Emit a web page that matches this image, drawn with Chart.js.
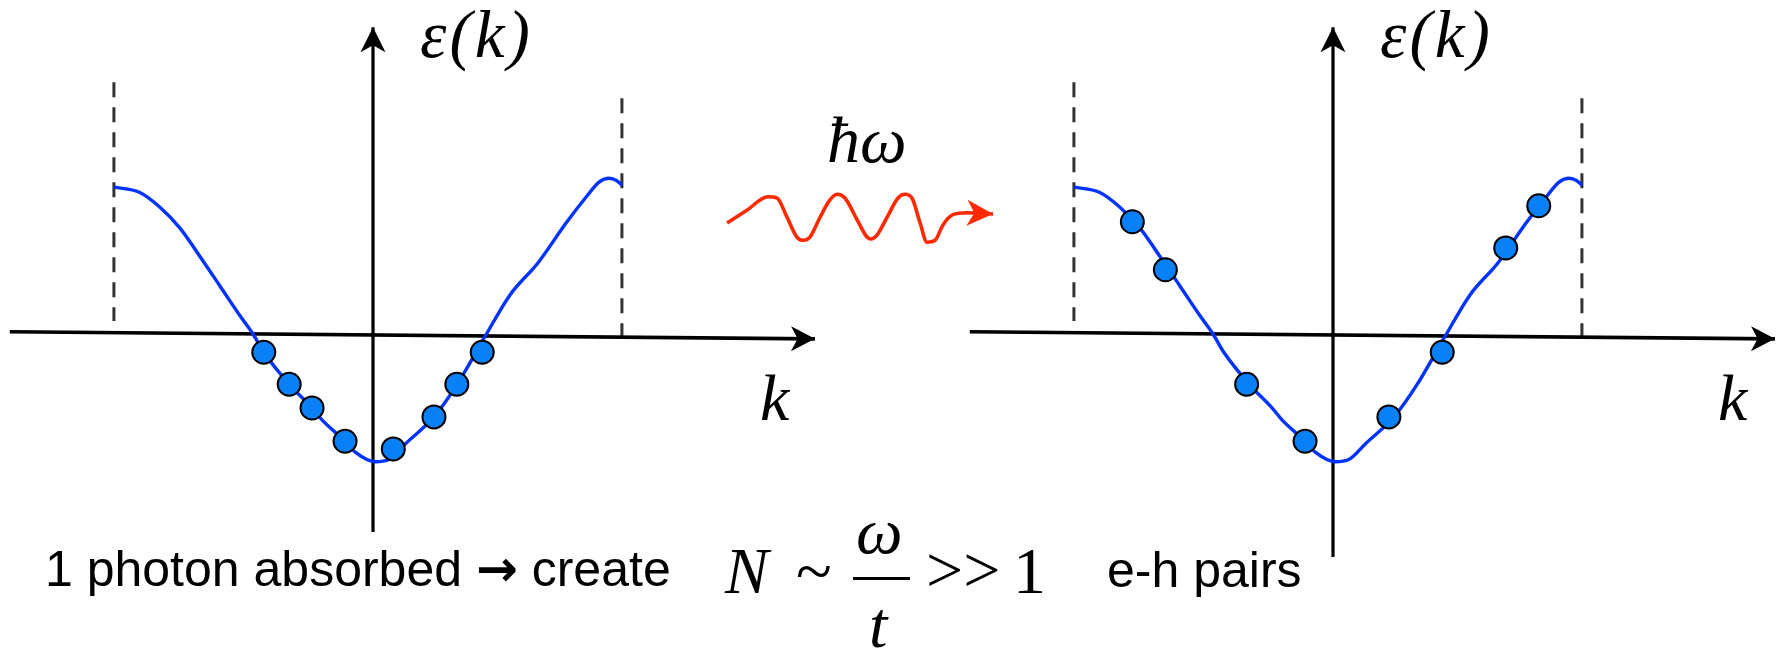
<!DOCTYPE html>
<html>
<head>
<meta charset="utf-8">
<script src="https://cdn.jsdelivr.net/npm/chart.js@4.4.0/dist/chart.umd.min.js"></script>
<style>
  html, body { margin: 0; padding: 0; background: #fff; }
  #wrap { position: relative; width: 1781px; height: 649px; overflow: hidden; }
  #chart { position: absolute; left: 0; top: 0; }
  .t { position: absolute; white-space: nowrap; line-height: 1; color: #000; }
  .m { font-family: "Liberation Serif", "Times New Roman", serif; font-style: italic; }
  .r { font-family: "Liberation Serif", "Times New Roman", serif; }
  .s { font-family: "Liberation Sans", Arial, sans-serif; }
  .arr { font-family: "DejaVu Sans", sans-serif; font-weight: bold; }
  #bar { position: absolute; left: 853px; top: 577px; width: 57px; height: 3px; background: #000; }
</style>
</head>
<body>
<div id="wrap">
  <canvas id="chart" width="1781" height="649"></canvas>

  <div class="t m" style="left:420px; top:1px; font-size:67px; letter-spacing:3px;">ε(k)</div>
  <div class="t m" style="left:1380px; top:1px; font-size:67px; letter-spacing:3px;">ε(k)</div>
  <div class="t m" style="left:760px; top:365px; font-size:66px;">k</div>
  <div class="t m" style="left:1718px; top:365px; font-size:66px;">k</div>
  <div class="t m" style="left:827px; top:107px; font-size:66px;">ħω</div>

  <div class="t s" style="left:45px; top:544px; font-size:50px;">1 photon absorbed <span class="arr">→</span> create</div>
  <div class="t m" style="left:725px; top:539px; font-size:65px;">N</div>
  <div class="t r" style="left:796px; top:538px; font-size:66px;">~</div>
  <div class="t m" style="left:856px; top:498px; font-size:66px;">ω</div>
  <div id="bar"></div>
  <div class="t m" style="left:869px; top:592px; font-size:66px;">t</div>
  <div class="t r" style="left:926px; top:537px; font-size:66px;">&gt;&gt;</div>
  <div class="t r" style="left:1013px; top:538px; font-size:66px;">1</div>
  <div class="t s" style="left:1107px; top:545px; font-size:50px;">e-h pairs</div>
</div>

<script>
// band ε(k), k in units of π, ε in units of t (same curve in both panels)
const bandK = [-1.02, -0.92, -0.84, -0.76, -0.68, -0.60, -0.52, -0.47, -0.43, -0.33, -0.24, -0.20, -0.11, -0.07,
               0.01, 0.06, 0.13, 0.24, 0.33, 0.44, 0.54, 0.65, 0.76, 0.84, 0.89, 0.93, 0.96, 0.98];
const bandE = [2.31, 2.23, 2.00, 1.67, 1.22, 0.75, 0.28, 0.00, -0.27, -0.77, -1.14, -1.33, -1.66, -1.83,
               -1.98, -1.95, -1.69, -1.28, -0.78, -0.03, 0.63, 1.13, 1.75, 2.16, 2.39, 2.45, 2.41, 2.34];

// electrons before (left) and after (right) absorption
const beforeK = [-0.43, -0.33, -0.24, -0.11, 0.08, 0.24, 0.33, 0.43];
const beforeE = [-0.27, -0.77, -1.14, -1.66, -1.78, -1.28, -0.77, -0.27];
const afterK  = [-0.79, -0.66, -0.34, -0.11, 0.22, 0.43, 0.68, 0.81];
const afterE  = [1.77, 1.02, -0.77, -1.66, -1.28, -0.27, 1.36, 2.02];

// zone boundaries (dashed)
const zoneK = [-1.02, 0.98];
const zoneTop = [3.95, 3.70];
const zoneBottom = [0.22, -0.03];

// axes
const kAxisK = [-1.43, 1.74];
const kAxisE = [0.05, -0.06];
const eAxisTop = 4.81;
const eAxisBottom = [-3.08, -3.47];

// photon wave (left panel units)
const waveK = [1.394, 1.472, 1.555, 1.591, 1.630, 1.669, 1.693, 1.720, 1.760, 1.799, 1.827, 1.858, 1.906, 1.945,
               1.961, 1.984, 2.024, 2.067, 2.094, 2.122, 2.154, 2.181, 2.213, 2.244, 2.283, 2.339, 2.441];
const waveE = [1.75, 1.95, 2.16, 2.14, 1.84, 1.53, 1.48, 1.53, 1.84, 2.11, 2.20, 2.14, 1.80, 1.53,
               1.50, 1.56, 1.84, 2.14, 2.20, 2.14, 1.75, 1.45, 1.48, 1.72, 1.88, 1.91, 1.89];

const W = 1781, H = 649;
const ORIGIN_L = 373, ORIGIN_R = 1333, ORIGIN_Y = 335, PX_K = 254, PX_E = 64;

const pts = (xs, ys) => xs.map((x, i) => ({ x, y: ys[i] }));

const BLUE = '#0033ff', DOT = '#0a80f6', RED = '#ff2a00';

function panel(axis, dotsK, dotsE, bottom) {
  return [
    { data: pts(dotsK, dotsE), xAxisID: axis, showLine: false, pointRadius: 11.5, pointBorderWidth: 2,
      pointBorderColor: '#000', pointBackgroundColor: DOT, order: 0 },
    { data: pts(bandK, bandE), xAxisID: axis, borderColor: BLUE, borderWidth: 3.4,
      cubicInterpolationMode: 'monotone', order: 1 },
    { data: pts(kAxisK, kAxisE), xAxisID: axis, borderColor: '#000', borderWidth: 3.6, order: 2,
      arrow: { len: 24, half: 12.5 } },
    { data: [{ x: 0, y: bottom }, { x: 0, y: eAxisTop }], xAxisID: axis, borderColor: '#000', borderWidth: 3.2, order: 2,
      arrow: { len: 25, half: 12.5 } },
    { data: [{ x: zoneK[0], y: zoneTop[0] }, { x: zoneK[0], y: zoneBottom[0] }], xAxisID: axis,
      borderColor: '#333', borderWidth: 3, borderDash: [15, 10], order: 3 },
    { data: [{ x: zoneK[1], y: zoneTop[1] }, { x: zoneK[1], y: zoneBottom[1] }], xAxisID: axis,
      borderColor: '#333', borderWidth: 3, borderDash: [15, 10], order: 3 }
  ];
}

const datasets = [
  ...panel('xL', beforeK, beforeE, eAxisBottom[0]),
  ...panel('xR', afterK, afterE, eAxisBottom[1]),
  { data: pts(waveK, waveE), xAxisID: 'xL', borderColor: RED, borderWidth: 3.6,
    cubicInterpolationMode: 'monotone', order: 1, arrow: { len: 26, half: 13 } }
];
datasets.forEach(d => {
  d.yAxisID = 'y';
  d.clip = false;
  d.fill = false;
  if (d.showLine !== false) { d.showLine = true; d.pointRadius = 0; }
});

// filled arrow heads at the end of marked lines
const arrowHeads = {
  id: 'arrowHeads',
  afterDatasetsDraw(chart) {
    const ctx = chart.ctx;
    chart.data.datasets.forEach((ds, i) => {
      if (!ds.arrow) return;
      const els = chart.getDatasetMeta(i).data;
      const a = els[els.length - 2], b = els[els.length - 1];
      const dx = b.x - a.x, dy = b.y - a.y, len = Math.hypot(dx, dy);
      const ux = dx / len, uy = dy / len, nx = -uy, ny = ux;
      const L = ds.arrow.len, hw = ds.arrow.half;
      ctx.save();
      ctx.fillStyle = ds.borderColor;
      ctx.beginPath();
      ctx.moveTo(b.x, b.y);
      ctx.lineTo(b.x - ux * L + nx * hw, b.y - uy * L + ny * hw);
      ctx.lineTo(b.x - ux * L * 0.72, b.y - uy * L * 0.72);
      ctx.lineTo(b.x - ux * L - nx * hw, b.y - uy * L - ny * hw);
      ctx.closePath();
      ctx.fill();
      ctx.restore();
    });
  }
};

new Chart(document.getElementById('chart'), {
  type: 'scatter',
  data: { datasets },
  options: {
    responsive: false,
    animation: false,
    layout: { padding: 0, autoPadding: false },
    plugins: { legend: { display: false }, tooltip: { enabled: false } },
    scales: {
      xL: { type: 'linear', display: false, min: -ORIGIN_L / PX_K, max: (W - ORIGIN_L) / PX_K },
      xR: { type: 'linear', display: false, min: -ORIGIN_R / PX_K, max: (W - ORIGIN_R) / PX_K },
      y:  { type: 'linear', display: false, min: (ORIGIN_Y - H) / PX_E, max: ORIGIN_Y / PX_E }
    }
  },
  plugins: [arrowHeads]
});
</script>
</body>
</html>
